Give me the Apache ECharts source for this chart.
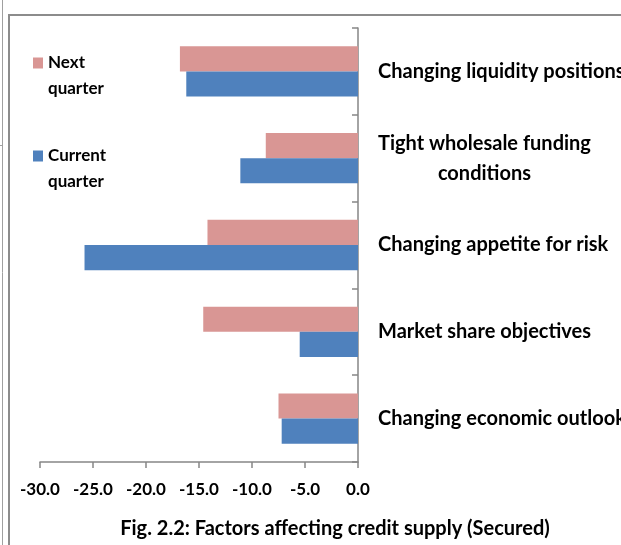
<!DOCTYPE html>
<html>
<head>
<meta charset="utf-8">
<script src="https://cdn.jsdelivr.net/npm/echarts@6/dist/echarts.min.js"></script>
<style>
  html, body { margin: 0; padding: 0; background: #fff; }
  #chart { width: 621px; height: 545px; }
</style>
</head>
<body>
<div id="chart"></div>
<script>
'use strict';

// categories, bottom to top (Excel order)
var factors = [
    'Changing economic outlook',
    'Market share objectives',
    'Changing appetite for risk',
    'Tight wholesale funding\nconditions',
    'Changing liquidity positions'
];
var currentQuarter = [-7.2, -5.5, -25.8, -11.1, -16.2];
var nextQuarter = [-7.5, -14.6, -14.2, -8.7, -16.8];
var xTicks = [-30, -25, -20, -15, -10, -5, 0];

var FONT = 'Lato, "Liberation Sans", sans-serif';

var chart = echarts.init(document.getElementById('chart'));

var legendText = {
    fontFamily: FONT,
    fontWeight: 'bold',
    fontSize: 17,
    color: '#000',
    lineHeight: 26
};

// leading blank line so the icon sits beside the first line of text
function legendLabel(name) {
    return ' \n' + name.replace(' ', '\n');
}

chart.setOption({
    animation: false,
    color: ['#D99694', '#4F81BD'],
    grid: {
        left: 40,
        right: 263,
        top: 28,
        bottom: 83,
        outerBoundsMode: 'none',
        containLabel: false
    },
    title: {
        text: 'Fig. 2.2: Factors affecting credit supply (Secured)',
        left: 330,
        textAlign: 'center',
        top: 514,
        textStyle: {
            fontFamily: FONT,
            fontWeight: 'bold',
            fontSize: 20,
            color: '#000'
        }
    },
    legend: [{
        data: ['Next quarter'],
        orient: 'vertical',
        left: 28,
        top: 19,
        icon: 'rect',
        itemWidth: 10,
        itemHeight: 11,
        formatter: legendLabel,
        textStyle: legendText
    }, {
        data: ['Current quarter'],
        orient: 'vertical',
        left: 28,
        top: 112,
        icon: 'rect',
        itemWidth: 10,
        itemHeight: 11,
        formatter: legendLabel,
        textStyle: legendText
    }],
    xAxis: {
        type: 'value',
        min: xTicks[0],
        max: xTicks[xTicks.length - 1],
        interval: 5,
        splitLine: { show: false },
        axisLine: { show: true, lineStyle: { color: '#868686', width: 1.5 } },
        axisTick: { show: true, length: 6, lineStyle: { color: '#868686', width: 1.5 } },
        axisLabel: {
            margin: 19,
            fontFamily: FONT,
            fontWeight: 'bold',
            fontSize: 17,
            color: '#000',
            formatter: function (v) { return v.toFixed(1); }
        }
    },
    yAxis: {
        type: 'category',
        position: 'right',
        data: factors,
        axisLine: { show: true, lineStyle: { color: '#868686', width: 1.5 } },
        axisTick: { show: true, inside: true, length: 6, lineStyle: { color: '#868686', width: 1.5 } },
        axisLabel: {
            margin: 20,
            align: 'left',
            color: '#000',
            formatter: function (v) {
                return v.split('\n').map(function (s) { return '{c|' + s + '}'; }).join('\n');
            },
            rich: {
                c: {
                    align: 'center',
                    fontFamily: FONT,
                    fontWeight: 'bold',
                    fontSize: 20,
                    lineHeight: 30,
                    color: '#000'
                }
            }
        }
    },
    series: [{
        name: 'Next quarter',
        type: 'bar',
        data: nextQuarter,
        barGap: '0%',
        barCategoryGap: '42%'
    }, {
        name: 'Current quarter',
        type: 'bar',
        data: currentQuarter,
        barGap: '0%',
        barCategoryGap: '42%'
    }],
    graphic: [{
        type: 'rect',
        shape: { x: 9, y: 15, width: 640, height: 560 },
        style: { fill: 'none', stroke: '#8c8c8c', lineWidth: 2 },
        silent: true
    }, {
        type: 'line',
        shape: { x1: 2.5, y1: 0, x2: 2.5, y2: 545 },
        style: { stroke: '#a0a0a0', lineWidth: 1 },
        silent: true
    }, {
        type: 'line',
        shape: { x1: 0, y1: 145.5, x2: 3, y2: 145.5 },
        style: { stroke: '#a0a0a0', lineWidth: 1 },
        silent: true
    }]
});
</script>
</body>
</html>
